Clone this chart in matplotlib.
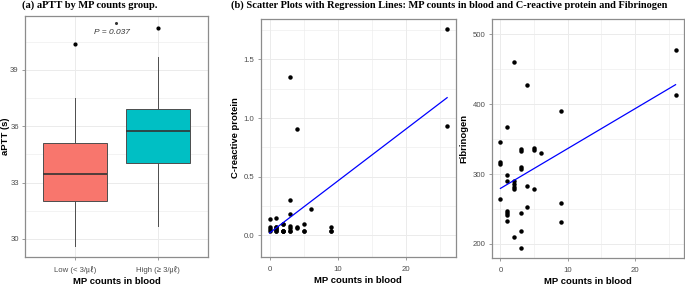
# aPTT boxplot + MP count scatter plots with regression lines

import matplotlib
matplotlib.use("Agg")
import matplotlib.pyplot as plt
import numpy as np

# (a) box stats
groups = ["Low (< 3/㎕)", "High (≥ 3/㎕)"]
box_q1 = [32.02, 34.06]
box_med = [33.46, 35.74]
box_q3 = [35.09, 36.90]
box_lo = [29.6, 30.7]
box_hi = [37.5, 39.7]
box_out = [[40.4], [41.22]]
box_colors = ["#F8766D", "#00BFC4"]

# (b) MP counts vs C-reactive protein (some points overlap at the bottom)
crp_mp = [26, 3, 4, 26, 3, 6, 3, 0, 1, 2, 0, 0, 0, 1, 1, 2, 3, 3, 3, 4, 5, 5, 9, 9,
          2, 2, 2, 2, 4, 9, 1, 1, 1, 1, 3, 5]
crp_val = [1.76, 1.35, 0.91, 0.93, 0.30, 0.22, 0.18, 0.14, 0.15, 0.10, 0.07, 0.05,
           0.04, 0.07, 0.05, 0.04, 0.08, 0.06, 0.04, 0.07, 0.10, 0.04, 0.07, 0.04,
           0.04, 0.04, 0.10, 0.04, 0.06, 0.04, 0.04, 0.05, 0.07, 0.04, 0.04, 0.04]

# MP counts vs Fibrinogen
fib_mp = [26, 2, 4, 26, 9, 1, 0, 3, 3, 5, 5, 6, 0, 0, 3, 3, 1, 1, 2, 2, 2, 2, 4, 5,
          0, 9, 4, 1, 1, 1, 3, 1, 9, 3, 2, 3]
fib_val = [478, 461, 428, 413, 390, 368, 346, 336, 333, 338, 335, 330, 318, 315, 310,
           307, 299, 290, 290, 286, 282, 278, 283, 278, 264, 258, 253, 247, 244, 241,
           244, 233, 231, 219, 210, 194]

W, H = 685, 285
fig = plt.figure(figsize=(W / 100, H / 100), dpi=100)

sans = ["Liberation Sans", "Noto Sans CJK KR"]
tick_col = "#4D4D4D"
grid_col = "#EBEBEB"
frame_col = "#8C8C8C"


def px_axes(l, t, r, b):
    return fig.add_axes([l / W, 1 - b / H, (r - l) / W, (b - t) / H])


def style(ax, xlabel, ylabel, ylabelpad=3):
    for s in ax.spines.values():
        s.set_color(frame_col)
        s.set_linewidth(0.9)
    ax.tick_params(colors=frame_col, labelcolor=tick_col, labelsize=5.6,
                   length=2.5, width=0.6, pad=2)
    ax.tick_params(axis="x", pad=4)
    ax.tick_params(which="minor", length=0)
    for lab in ax.get_xticklabels() + ax.get_yticklabels():
        lab.set_family(sans)
    ax.grid(True, which="major", color=grid_col, linewidth=0.7)
    ax.grid(True, which="minor", color=grid_col, linewidth=0.4)
    ax.set_axisbelow(True)
    ax.set_xlabel(xlabel, fontsize=6.8, fontweight="bold", family=sans, labelpad=2)
    ax.set_ylabel(ylabel, fontsize=6.8, fontweight="bold", family=sans,
                  labelpad=ylabelpad)


# ---- panel (a)
ax1 = px_axes(25, 16, 208, 257)
stats = []
for i in range(len(groups)):
    stats.append(dict(q1=box_q1[i], med=box_med[i], q3=box_q3[i],
                      whislo=box_lo[i], whishi=box_hi[i], fliers=box_out[i]))
bp = ax1.bxp(stats, positions=[1, 2], widths=0.76, patch_artist=True,
             boxprops=dict(edgecolor="#4D4D4D", linewidth=0.7),
             medianprops=dict(color="#333333", linewidth=1.2),
             whiskerprops=dict(color="#4D4D4D", linewidth=0.7),
             capprops=dict(linewidth=0),
             flierprops=dict(marker="o", markerfacecolor="black",
                             markeredgecolor="black", markersize=2))
for patch, c in zip(bp["boxes"], box_colors):
    patch.set_facecolor(c)
ax1.set_xlim(0.4, 2.6)
ax1.set_ylim(29.04, 41.87)
ax1.set_yticks([30, 33, 36, 39])
ax1.set_yticks([31.5, 34.5, 37.5, 40.5], minor=True)
ax1.set_xticks([1, 2])
ax1.set_xticklabels(groups)
style(ax1, "MP counts in blood", "aPTT (s)")
ax1.yaxis.label.set_verticalalignment("center")
ax1.yaxis.set_label_coords(-19.5 / 183, 0.5)
ax1.text(1.45, 40.97, "P = 0.037", ha="center", va="center", fontsize=6,
         style="italic", family=sans, color="#333333")
ax1.plot([1.5], [41.5], "o", color="#333333", markersize=1.2)

# ---- panel (b) CRP
ax2 = px_axes(260.7, 19, 456, 257)
ax2.plot(crp_mp, crp_val, "o", color="black", markersize=2.2)
k, b = np.polyfit(crp_mp, crp_val, 1)
xs = np.array([min(crp_mp), max(crp_mp)])
ax2.plot(xs, k * xs + b, color="#0000FF", linewidth=0.9)
ax2.set_xlim(-1.3, 27.3)
ax2.set_ylim(-0.185, 1.844)
ax2.set_xticks([0, 10, 20])
ax2.set_xticks([5, 15, 25], minor=True)
ax2.set_yticks([0.0, 0.5, 1.0, 1.5])
ax2.set_yticklabels(["0.0", "0.5", "1.0", "1.5"])
ax2.set_yticks([0.25, 0.75, 1.25, 1.75], minor=True)
style(ax2, "MP counts in blood", "C-reactive protein")

# ---- panel (b) Fibrinogen
ax3 = px_axes(491.7, 19, 684.3, 258.3)
ax3.plot(fib_mp, fib_val, "o", color="black", markersize=2.2)
k, b = np.polyfit(fib_mp, fib_val, 1)
xs = np.array([min(fib_mp), max(fib_mp)])
ax3.plot(xs, k * xs + b, color="#0000FF", linewidth=0.9)
ax3.set_xlim(-1.3, 27.3)
ax3.set_ylim(179.5, 521.9)
ax3.set_xticks([0, 10, 20])
ax3.set_xticks([5, 15, 25], minor=True)
ax3.set_yticks([200, 300, 400, 500])
ax3.set_yticks([250, 350, 450], minor=True)
style(ax3, "MP counts in blood", "Fibrinogen")

# titles
fig.text(22.5 / W, 1 - 5.5 / H, "(a) aPTT by MP counts group.", fontsize=7.6,
         fontweight="bold", family="Liberation Serif", va="center", ha="left")
fig.text(231 / W, 1 - 5.5 / H,
         "(b) Scatter Plots with Regression Lines: MP counts in blood and C-reactive protein and Fibrinogen",
         fontsize=7.45, fontweight="bold", family="Liberation Serif", va="center", ha="left")

fig.savefig("out.png", dpi=100)
